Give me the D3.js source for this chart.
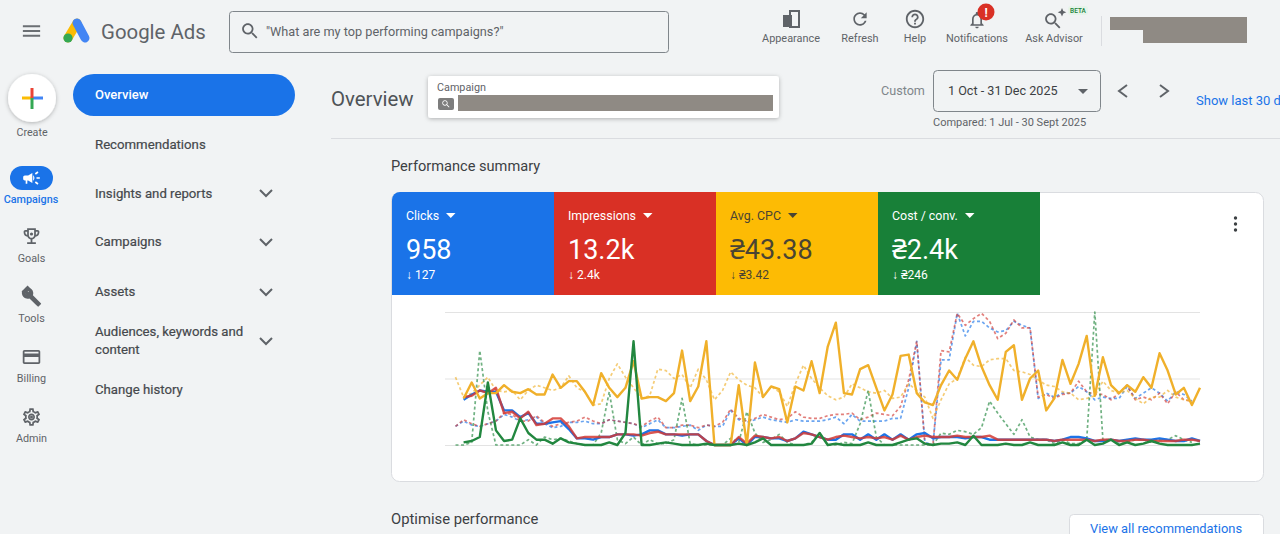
<!DOCTYPE html>
<html>
<head>
<meta charset="utf-8">
<title>Google Ads overview</title>
<script src="https://cdn.jsdelivr.net/npm/d3@7"></script>
<style>
html, body { margin: 0; padding: 0; background: #f1f3f4; overflow: hidden; }
text { font-family: Roboto, "Noto Sans", sans-serif; }
</style>
</head>
<body>
<svg id="page" width="1280" height="534"></svg>
<script>
// Chart series. 0 = bottom gridline, 100 = top gridline
const clicksNow = [null,34,38,41,40,40,26,26,21,24,16,16,17,18,12,5,5,4,6,6,8,8,7,8,11,11,8,8,7,8,8,3,0,0,0,5,0,6,6,5,5,3,5,10,8,6,4,4,8,8,4,8,4,8,4,8,4,8,9,5,6,6,6,5,6,6,4,4,4,4,4,4,4,4,3,4,6,6,5,3,3,4,3,4,5,4,4,5,4,3,3,5,3];
const imprNow = [null,36,37,41,39,43,24,25,20,25,15,16,20,20,14,5,6,6,6,6,8,8,8,7,9,10,8,8,8,8,8,3,0,0,0,6,1,7,6,5,6,3,5,9,8,6,4,6,7,6,5,6,5,6,4,7,4,6,7,6,6,6,7,6,6,6,7,4,4,4,4,4,4,4,3,4,4,4,4,3,4,4,3,3,4,4,3,3,3,3,4,4,3];
const cpcNow = [null,35,47,35,39,39,45,40,39,42,38,38,53,43,48,48,40,30,54,43,36,43,63,35,36,36,33,39,71,33,44,78,0,0,0,45,0,62,36,44,42,17,44,41,63,39,74,92,39,38,57,60,43,26,38,67,68,39,32,30,45,56,49,65,78,59,45,34,70,75,34,50,56,26,35,64,46,61,82,37,66,45,39,45,40,51,43,69,56,38,43,30,43];
const costNow = [null,2,3,6,47,11,3,4,20,9,4,4,1,5,2,1,0,0,0,2,0,9,78,0,0,1,2,1,0,0,0,1,0,0,0,1,0,2,5,0,0,0,0,0,1,9,0,1,0,0,0,2,0,0,0,2,4,5,1,0,1,1,2,0,7,0,0,0,1,0,0,2,0,0,0,2,0,0,4,0,1,4,0,2,0,1,3,1,0,0,0,0,1];

const clicksPrev = [14,18,15,14,16,18,23,21,18,19,21,16,13,14,17,17,18,16,16,19,18,17,16,13,16,19,13,13,14,15,11,15,14,14,26,19,17,19,21,19,18,17,19,18,18,18,19,21,16,23,18,18,18,18,20,20,43,78,2,0,64,64,99,82,93,93,88,85,86,93,90,88,35,39,36,39,39,44,40,34,36,35,35,44,35,39,43,39,33,40,38,33,null];
const imprPrev = [14,19,16,14,16,18,24,23,18,18,22,17,14,16,17,18,21,18,16,19,18,17,16,14,18,21,13,13,15,15,13,15,14,17,27,20,18,20,23,21,19,20,25,21,20,20,22,23,23,24,19,21,24,23,22,29,49,78,1,0,71,70,99,90,95,99,93,80,84,94,88,88,36,38,35,38,39,48,40,38,38,34,39,45,34,36,34,39,31,40,34,33,null];
const cpcPrev = [51,36,39,45,51,41,40,41,34,41,45,43,41,43,52,43,40,30,31,50,61,51,43,35,37,57,56,50,53,43,57,49,34,41,55,49,45,43,36,44,40,29,46,60,50,43,37,34,36,46,43,40,39,41,35,36,46,41,36,20,34,46,50,66,60,59,64,65,65,56,55,53,49,45,44,40,39,34,35,37,48,41,39,41,35,31,36,36,41,36,34,33,null];
const costPrev = [0,0,2,71,25,0,0,0,0,4,0,6,4,5,3,1,0,0,9,40,4,1,6,0,4,1,1,4,35,1,0,0,0,0,5,2,25,9,2,4,8,2,0,0,2,9,0,0,2,1,16,41,6,0,0,0,0,0,0,0,9,8,11,10,8,13,33,24,16,8,19,6,4,4,1,4,1,1,4,100,4,4,1,2,4,4,2,4,4,7,4,2,null];

const gridValues = [0, 50, 100];

// Metric tiles
const tileLabels = ["Clicks", "Impressions", "Avg. CPC", "Cost / conv."];
const tileValues = ["958", "13.2k", "₴43.38", "₴2.4k"];
const tileDeltas = ["127", "2.4k", "₴3.42", "₴246"];
const tileColors = ["#1a73e8", "#d93025", "#fdbb04", "#188038"];
const tileInk = ["#fff", "#fff", "#4a4433", "#fff"];
const lineColors = ["#1a73e8", "#d33a34", "#f0b02c", "#22873f"];

// Page chrome
const navLabels = ["Recommendations", "Insights and reports", "Campaigns", "Assets", "Audiences, keywords and", "content", "Change history"];
const navY = [148.5, 197.5, 246, 296, 336, 353.5, 393.5];
const chevronY = [193, 242, 292, 341];
const railLabels = ["Goals", "Tools", "Billing", "Admin"];
const toolLabels = ["Appearance", "Refresh", "Help", "Notifications", "Ask Advisor"];
const toolX = [791, 860, 915, 977, 1054];

const icons = {
  menu: "M3 18h18v-2H3v2zm0-5h18v-2H3v2zm0-7v2h18V6H3z",
  search: "M15.5 14h-.79l-.28-.27C15.41 12.59 16 11.11 16 9.5 16 5.91 13.09 3 9.5 3S3 5.91 3 9.5 5.91 16 9.5 16c1.61 0 3.09-.59 4.23-1.57l.27.28v.79l5 4.99L20.49 19l-4.99-5zm-6 0C7.01 14 5 11.99 5 9.5S7.01 5 9.5 5 14 7.01 14 9.5 11.99 14 9.5 14z",
  refresh: "M17.65 6.35C16.2 4.9 14.21 4 12 4c-4.42 0-7.99 3.58-7.99 8s3.57 8 7.99 8c3.73 0 6.84-2.55 7.73-6h-2.08c-.82 2.33-3.04 4-5.65 4-3.31 0-6-2.69-6-6s2.69-6 6-6c1.66 0 3.14.69 4.22 1.78L13 11h7V4l-2.35 2.35z",
  help: "M11 18h2v-2h-2v2zm1-16C6.48 2 2 6.48 2 12s4.48 10 10 10 10-4.48 10-10S17.52 2 12 2zm0 18c-4.41 0-8-3.59-8-8s3.59-8 8-8 8 3.59 8 8-3.59 8-8 8zm0-14c-2.21 0-4 1.79-4 4h2c0-1.1.9-2 2-2s2 .9 2 2c0 2-3 1.75-3 5h2c0-2.25 3-2.5 3-5 0-2.21-1.79-4-4-4z",
  bell: "M12 22c1.1 0 2-.9 2-2h-4c0 1.1.9 2 2 2zm6-6v-5c0-3.07-1.63-5.64-4.5-6.32V4c0-.83-.67-1.5-1.5-1.5s-1.5.67-1.5 1.5v.68C7.64 5.36 6 7.92 6 11v5l-2 2v1h16v-1l-2-2zm-2 1H8v-6c0-2.48 1.51-4.5 4-4.5s4 2.02 4 4.5v6z",
  trophy: "M19 5h-2V3H7v2H5c-1.1 0-2 .9-2 2v1c0 2.55 1.92 4.63 4.39 4.94.63 1.5 1.98 2.63 3.61 2.96V19H7v2h10v-2h-4v-3.1c1.63-.33 2.98-1.46 3.61-2.96C19.08 12.63 21 10.55 21 8V7c0-1.1-.9-2-2-2zM5 8V7h2v3.82C5.84 10.4 5 9.3 5 8zm7 6c-1.65 0-3-1.35-3-3V5h6v6c0 1.65-1.35 3-3 3zm7-6c0 1.3-.84 2.4-2 2.82V7h2v1z",
  tools: "M22.7 19l-9.1-9.1c.9-2.3.4-5-1.5-6.9-2-2-5-2.4-7.4-1.3L9 6 6 9 1.6 4.7C.4 7.1.9 10.1 2.9 12.1c1.9 1.9 4.6 2.4 6.9 1.5l9.1 9.1c.4.4 1 .4 1.4 0l2.3-2.3c.5-.4.5-1.1.1-1.4z",
  card: "M20 4H4c-1.11 0-1.99.89-1.99 2L2 18c0 1.11.89 2 2 2h16c1.11 0 2-.89 2-2V6c0-1.11-.89-2-2-2zm0 14H4v-6h16v6zm0-10H4V6h16v2z",
  gear: "M19.43 12.98c.04-.32.07-.64.07-.98 0-.34-.03-.66-.07-.98l2.11-1.65c.19-.15.24-.42.12-.64l-2-3.46c-.09-.16-.26-.25-.44-.25-.06 0-.12.01-.17.03l-2.49 1c-.52-.4-1.08-.73-1.69-.98l-.38-2.65C14.46 2.18 14.25 2 14 2h-4c-.25 0-.46.18-.49.42l-.38 2.65c-.61.25-1.17.59-1.69.98l-2.49-1c-.06-.02-.12-.03-.18-.03-.17 0-.34.09-.43.25l-2 3.46c-.13.22-.07.49.12.64l2.11 1.65c-.04.32-.07.65-.07.98 0 .33.03.66.07.98l-2.11 1.65c-.19.15-.24.42-.12.64l2 3.46c.09.16.26.25.44.25.06 0 .12-.01.17-.03l2.49-1c.52.4 1.08.73 1.69.98l.38 2.65c.03.24.24.42.49.42h4c.25 0 .46-.18.49-.42l.38-2.65c.61-.25 1.17-.59 1.69-.98l2.49 1c.06.02.12.03.18.03.17 0 .34-.09.43-.25l2-3.46c.12-.22.07-.49-.12-.64l-2.11-1.65zm-1.98-1.71c.04.31.05.52.05.73 0 .21-.02.43-.05.73l-.14 1.13.89.7 1.08.84-.7 1.21-1.27-.51-1.04-.42-.9.68c-.43.32-.84.56-1.25.73l-1.06.43-.16 1.13-.2 1.35h-1.4l-.19-1.35-.16-1.13-1.06-.43c-.43-.18-.83-.41-1.23-.71l-.91-.7-1.06.43-1.27.51-.7-1.21 1.08-.84.89-.7-.14-1.13c-.03-.31-.05-.54-.05-.74s.02-.43.05-.73l.14-1.13-.89-.7-1.08-.84.7-1.21 1.27.51 1.04.42.9-.68c.43-.32.84-.56 1.25-.73l1.06-.43.16-1.13.2-1.35h1.39l.19 1.35.16 1.13 1.06.43c.43.18.83.41 1.23.71l.91.7 1.06-.43 1.27-.51.7 1.21-1.07.85-.89.7.14 1.13zM12 8c-2.21 0-4 1.79-4 4s1.79 4 4 4 4-1.79 4-4-1.79-4-4-4zm0 6c-1.1 0-2-.9-2-2s.9-2 2-2 2 .9 2 2-.9 2-2 2z",
  megaphone: "M18 11v2h4v-2h-4zm-2 6.61c.96.71 2.21 1.65 3.2 2.39.4-.53.8-1.07 1.2-1.6-.99-.74-2.24-1.68-3.2-2.4-.4.54-.8 1.08-1.2 1.61zM20.4 5.6c-.4-.53-.8-1.07-1.2-1.6-.99.74-2.24 1.68-3.2 2.4.4.53.8 1.07 1.2 1.6.96-.72 2.21-1.65 3.2-2.4zM4 9c-1.1 0-2 .9-2 2v2c0 1.1.9 2 2 2h1v4h2v-4h1l5 3V6L8 9H4zm11.5 3c0-1.33-.58-2.53-1.5-3.35v6.69c.92-.81 1.5-2.01 1.5-3.34z"
};

const svg = d3.select("#page");

const defs = svg.append("defs");
const shadow = defs.append("filter").attr("id", "shadow").attr("x", "-30%").attr("y", "-30%").attr("width", "160%").attr("height", "160%");
shadow.append("feDropShadow").attr("dx", 0).attr("dy", 1).attr("stdDeviation", 2).attr("flood-color", "#000").attr("flood-opacity", 0.28);
defs.append("filter").attr("id", "soft").append("feGaussianBlur").attr("stdDeviation", 0.45);

function label(x, y, str, size, color, opts = {}) {
  return svg.append("text")
    .attr("x", x).attr("y", y)
    .attr("font-size", size)
    .attr("fill", color)
    .attr("font-weight", opts.weight || 400)
    .attr("text-anchor", opts.anchor || "start")
    .text(str);
}

function icon(name, cx, cy, size, color) {
  const s = size / 24;
  svg.append("path")
    .attr("d", icons[name])
    .attr("transform", `translate(${cx - size / 2},${cy - size / 2}) scale(${s})`)
    .attr("fill", color);
}

function chevron(points, color = "#5f6368", width = 2) {
  svg.append("path").attr("d", d3.line()(points))
    .attr("fill", "none").attr("stroke", color).attr("stroke-width", width);
}

// --- top bar ---
icon("menu", 31.5, 31, 23, "#6b6f73");
// logo
svg.append("path").attr("d", "M68 38L77 23").attr("stroke", "#fbbc04").attr("stroke-width", 9).attr("stroke-linecap", "round");
svg.append("path").attr("d", "M77 23L85 38").attr("stroke", "#4285f4").attr("stroke-width", 9).attr("stroke-linecap", "round");
svg.append("circle").attr("cx", 68).attr("cy", 38).attr("r", 4.6).attr("fill", "#34a853");
label(101, 39, "Google Ads", 20.4, "#5f6368");

svg.append("rect").attr("x", 229.5).attr("y", 11.5).attr("width", 439).attr("height", 41).attr("rx", 3)
  .attr("fill", "none").attr("stroke", "#80868b");
icon("search", 250, 31, 21, "#5f6368");
label(266, 36, "\"What are my top performing campaigns?\"", 12.7, "#5f6368");

// toolbar labels
toolLabels.forEach((t, i) => label(toolX[i], 42, t, 10.9, "#5f6368", { anchor: "middle" }));
svg.append("rect").attr("x", 783).attr("y", 15).attr("width", 9).attr("height", 12).attr("fill", "#5f6368");
svg.append("rect").attr("x", 790).attr("y", 11).attr("width", 9).attr("height", 16).attr("fill", "none").attr("stroke", "#5f6368").attr("stroke-width", 2);
icon("refresh", 860, 19, 20, "#5f6368");
icon("help", 915, 19, 22, "#5f6368");
icon("bell", 977, 20, 20, "#5f6368");
svg.append("circle").attr("cx", 986).attr("cy", 12).attr("r", 8.5).attr("fill", "#d93025");
label(986, 16.5, "!", 12, "#fff", { anchor: "middle", weight: 700 });
icon("search", 1053, 21, 21, "#5f6368");
svg.append("path").attr("d", "M1062 8l1.3 3 3 1.3-3 1.3-1.3 3-1.3-3-3-1.3 3-1.3z").attr("fill", "#5f6368");
svg.append("rect").attr("x", 1068).attr("y", 6).attr("width", 20).attr("height", 9).attr("rx", 3).attr("fill", "#e6f4ea");
label(1078, 13, "BETA", 6.5, "#188038", { anchor: "middle", weight: 500 });
svg.append("line").attr("x1", 1101.5).attr("x2", 1101.5).attr("y1", 16).attr("y2", 46).attr("stroke", "#dadce0");
svg.append("rect").attr("x", 1110).attr("y", 17).attr("width", 137).attr("height", 13).attr("fill", "#8f8a84");
svg.append("rect").attr("x", 1143).attr("y", 30).attr("width", 104).attr("height", 13).attr("fill", "#8f8a84");

// --- left rail ---
svg.append("circle").attr("cx", 32).attr("cy", 98).attr("r", 24).attr("fill", "#fff").attr("filter", "url(#shadow)");
svg.append("path").attr("d", "M22 98H32").attr("stroke", "#fbbc04").attr("stroke-width", 3);
svg.append("path").attr("d", "M32 98H43").attr("stroke", "#4285f4").attr("stroke-width", 3);
svg.append("path").attr("d", "M32 88V98").attr("stroke", "#ea4335").attr("stroke-width", 3);
svg.append("path").attr("d", "M32 98V109").attr("stroke", "#34a853").attr("stroke-width", 3);
label(32, 135.5, "Create", 10.7, "#5f6368", { anchor: "middle" });

svg.append("rect").attr("x", 10).attr("y", 166).attr("width", 43).attr("height", 24).attr("rx", 12).attr("fill", "#1a73e8");
icon("megaphone", 31.5, 178, 20, "#fff");
label(31, 203, "Campaigns", 10.8, "#1a73e8", { anchor: "middle", weight: 500 });

const railIcons = ["trophy", "tools", "card", "gear"];
const railIconY = [236, 297, 357, 417];
const railLabelY = [262, 322, 382, 442];
railLabels.forEach((t, i) => {
  icon(railIcons[i], 31.5, railIconY[i], 21, "#5f6368");
  label(31.5, railLabelY[i], t, 10.8, "#5f6368", { anchor: "middle" });
});
svg.append("circle").attr("cx", 31.5).attr("cy", 234).attr("r", 1.6).attr("fill", "#5f6368");
svg.append("circle").attr("cx", 31.5).attr("cy", 417).attr("r", 1.5).attr("fill", "#5f6368");
// second tool of the crossed pair
svg.append("path").attr("d", "M25 291L38 304").attr("stroke", "#5f6368").attr("stroke-width", 3.5);
svg.append("path").attr("d", "M23 293L29 287").attr("stroke", "#5f6368").attr("stroke-width", 4);

// --- nav column ---
svg.append("rect").attr("x", 73).attr("y", 74).attr("width", 222).attr("height", 42).attr("rx", 21).attr("fill", "#1a73e8");
label(95, 98.5, "Overview", 13, "#fff", { weight: 500 });
navLabels.forEach((t, i) => label(95, navY[i], t, 13.2, "#45484c", { weight: 400 }).attr("stroke", "#45484c").attr("stroke-width", 0.2));
chevronY.forEach(y => chevron([[260, y - 3], [266, y + 3], [272, y - 3]]));

// --- page header ---
label(331, 106, "Overview", 20.4, "#4f5357");
svg.append("rect").attr("x", 428).attr("y", 76).attr("width", 351).attr("height", 42).attr("rx", 3)
  .attr("fill", "#fff").attr("filter", "url(#shadow)");
label(437, 91, "Campaign", 10.8, "#5f6368");
svg.append("rect").attr("x", 438).attr("y", 98).attr("width", 16).attr("height", 12).attr("rx", 2).attr("fill", "#7d7d7d");
icon("search", 446, 104, 10, "#fff");
svg.append("rect").attr("x", 458).attr("y", 95).attr("width", 315).attr("height", 16).attr("fill", "#8f8a84");

label(881, 95, "Custom", 12.6, "#80868b");
svg.append("rect").attr("x", 933.5).attr("y", 70.5).attr("width", 167).attr("height", 41).attr("rx", 4)
  .attr("fill", "none").attr("stroke", "#80868b");
label(948, 95, "1 Oct - 31 Dec 2025", 12.6, "#3c4043");
svg.append("path").attr("d", "M1078 89h10l-5 5z").attr("fill", "#5f6368");
chevron([[1127, 85], [1119, 91], [1127, 97]]);
chevron([[1160, 85], [1168, 91], [1160, 97]]);
label(1196, 104.5, "Show last 30 days", 13, "#1a73e8");
label(933, 126, "Compared: 1 Jul - 30 Sept 2025", 11, "#5f6368");
svg.append("line").attr("x1", 331).attr("x2", 1280).attr("y1", 138.5).attr("y2", 138.5).attr("stroke", "#dadce0");

label(391, 171, "Performance summary", 14.6, "#3c4043");

// --- card ---
svg.append("rect").attr("x", 391.5).attr("y", 192.5).attr("width", 872).attr("height", 289).attr("rx", 8)
  .attr("fill", "#fff").attr("stroke", "#dadce0");

const tileX = d3.scaleBand().domain(d3.range(tileLabels.length)).range([392, 1040]);
const tiles = svg.append("g").selectAll("g").data(tileLabels).join("g")
  .attr("transform", (d, i) => `translate(${tileX(i)},192)`);
tiles.append("path")
  .attr("d", (d, i) => i === 0
    ? `M0 103V8a8 8 0 0 1 8-8H${tileX.bandwidth()}V103z`
    : `M0 0H${tileX.bandwidth()}V103H0z`)
  .attr("fill", (d, i) => tileColors[i]);
tiles.append("text").attr("x", 14).attr("y", 27.5).attr("font-size", 12.4)
  .attr("fill", (d, i) => tileInk[i]).text(d => d);
tiles.append("text").attr("x", 14).attr("y", 66.5).attr("font-size", 27)
  .attr("fill", (d, i) => tileInk[i]).text((d, i) => tileValues[i]);
tiles.append("text").attr("x", 14).attr("y", 87).attr("font-size", 12)
  .attr("fill", (d, i) => tileInk[i]).text((d, i) => "↓ " + tileDeltas[i]);
// dropdown carets after each tile label
const caretX = [54, 89, 72, 87];
tiles.append("path")
  .attr("d", (d, i) => `M${caretX[i]} 21h9.5l-4.75 5z`)
  .attr("fill", (d, i) => tileInk[i]);

// three dots menu
[218, 224, 230].forEach(y => svg.append("circle").attr("cx", 1235.5).attr("cy", y).attr("r", 1.7).attr("fill", "#3c4043"));

// --- chart ---
const x = d3.scaleLinear().domain([0, clicksNow.length - 1]).range([455.5, 1200]);
const y = d3.scaleLinear().domain([0, 100]).range([445, 312]);

const grid = svg.append("g")
  .attr("transform", "translate(445,0)")
  .call(d3.axisRight(y).tickValues(gridValues).tickSize(755).tickFormat(""));
grid.select(".domain").remove();
grid.selectAll("line").attr("stroke", "#e3e3e3");

const line = d3.line()
  .defined(d => d != null)
  .x((d, i) => x(i))
  .y(d => y(d));

const prevSeries = [clicksPrev, imprPrev, cpcPrev, costPrev];
const nowSeries = [clicksNow, imprNow, cpcNow, costNow];

const marks = svg.append("g").attr("fill", "none").attr("stroke-linejoin", "round").attr("filter", "url(#soft)");
marks.selectAll("path.prev").data(prevSeries).join("path")
  .attr("class", "prev")
  .attr("d", line)
  .attr("stroke", (d, i) => lineColors[i])
  .attr("stroke-width", 1.7)
  .attr("stroke-dasharray", "3 2.5")
  .attr("opacity", 0.65);
marks.selectAll("path.now").data(nowSeries).join("path")
  .attr("class", "now")
  .attr("d", line)
  .attr("stroke", (d, i) => lineColors[i])
  .attr("stroke-width", 2.4)
  .attr("opacity", (d, i) => i === 1 ? 0.85 : 1);

// --- below the card ---
label(391, 524, "Optimise performance", 14.8, "#3c4043");
svg.append("rect").attr("x", 1069.5).attr("y", 514.5).attr("width", 194).attr("height", 40).attr("rx", 4)
  .attr("fill", "#fff").attr("stroke", "#dadce0");
label(1090, 533, "View all recommendations", 12.9, "#1a73e8");
</script>
</body>
</html>
